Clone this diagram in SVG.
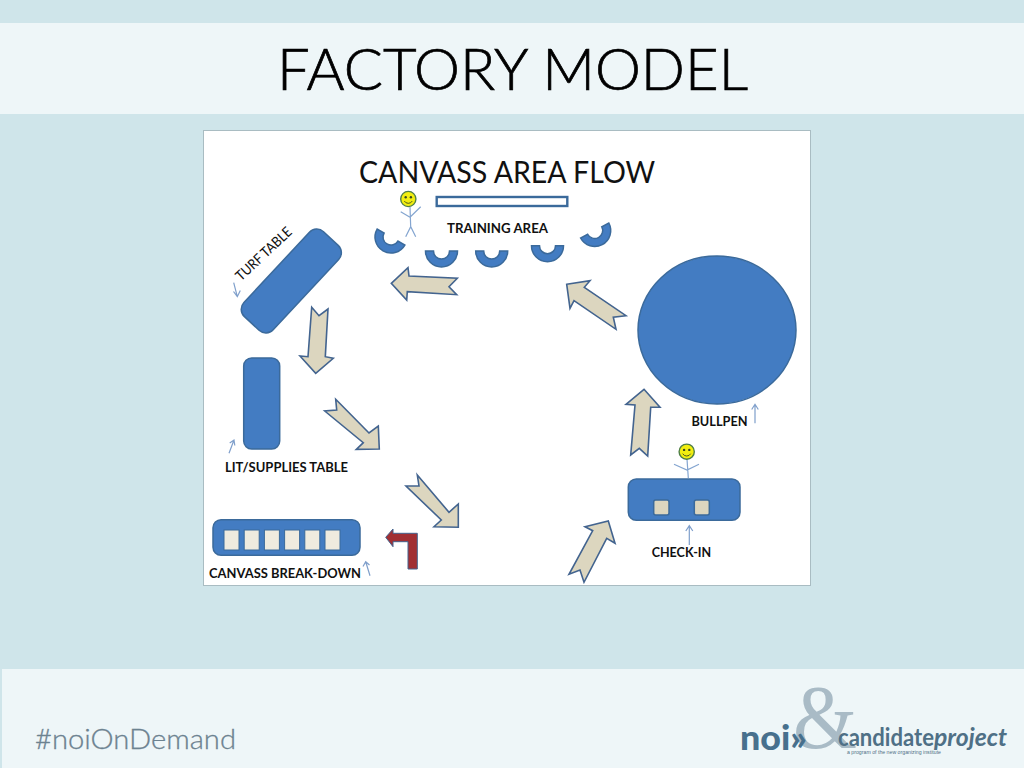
<svg xmlns="http://www.w3.org/2000/svg" xmlns:xlink="http://www.w3.org/1999/xlink" width="1024" height="768" viewBox="0 0 1024 768">
<style>
.blue{fill:#437cc2;stroke:#3b6a9b;stroke-width:1.5}
.flow{fill:#dcd6bf;stroke:#43648f;stroke-width:1.6;stroke-linejoin:miter}
.sq{fill:#efebdf;stroke:#3b6a9b;stroke-width:1}
.sq2{fill:#dcd6bf;stroke:#3b6a9b;stroke-width:1.5}
.thin{fill:none;stroke:#7f9fcb;stroke-width:1.2}
.stick{fill:none;stroke:#84a5d0;stroke-width:1.2}
.lbl{font-family:Lato,"Liberation Sans",sans-serif;font-weight:700;font-size:14px;fill:#111}
.face{fill:#f2ee10;stroke:#4f7f48;stroke-width:1.4}
</style>
<defs>
<path id="arc" class="blue" d="M-16,0A16,16 0 0 0 16,0L8,0A8,8 0 0 1 -8,0Z"/>
<g id="smile">
<circle class="face" r="7.6"/>
<circle cx="-2.6" cy="-1.8" r="1.2" fill="#3a4a20"/>
<circle cx="2.6" cy="-1.8" r="1.2" fill="#3a4a20"/>
<path d="M-4,2A4.6,4.6 0 0 0 4,2" fill="none" stroke="#3a4a20" stroke-width="0.9"/>
</g>
</defs>

<rect id="background" width="1024" height="768" fill="#cfe5ea"/>
<rect id="title-band" y="23" width="1024" height="91" fill="#eef6f8"/>
<rect id="footer-band" x="2" y="669" width="1022" height="99" fill="#eef6f8"/>
<text id="slide-title" x="277" y="90" font-family="Lato,'Liberation Sans',sans-serif" font-weight="300" font-size="57" fill="#000" stroke="#000" stroke-width="0.7" textLength="471" lengthAdjust="spacingAndGlyphs">FACTORY MODEL</text>
<text id="hashtag" x="35" y="749" font-family="Lato,'Liberation Sans',sans-serif" font-weight="300" font-size="27" fill="#6c8290" stroke="#6c8290" stroke-width="0.3" textLength="201" lengthAdjust="spacingAndGlyphs">#noiOnDemand</text>

<rect id="panel" x="203.5" y="130.5" width="607" height="455" fill="#fff" stroke="#a9bcc2" stroke-width="1"/>
<text id="panel-title" x="359" y="183" font-family="Lato,'Liberation Sans',sans-serif" font-size="30" fill="#111" textLength="296" lengthAdjust="spacingAndGlyphs">CANVASS AREA FLOW</text>

<g id="connectors">
<polygon class="flow" points="391.3,283.3 408,267.7 409,276 457.3,278.3 449,286.7 456.7,294.7 407.3,291.7 406.7,300"/>
<polygon class="flow" points="311.7,307.3 319,315.7 328,309 325.3,356.7 333.3,358.3 315.7,373.3 300,356 308,356.7"/>
<polygon class="flow" points="335.7,399.3 369,433 378.3,426 379.3,449 356.3,449.3 363.3,442.7 324.7,411 336.7,410"/>
<polygon class="flow" points="417.3,475 449,512.3 458.3,504 458.3,527.3 434,526.7 441.3,520 406,486 419,486"/>
<polygon class="flow" points="566.7,284.3 590,280.7 584.3,287.3 626,315.7 613.3,317.3 616,329.3 574,300.7 570,308.3"/>
<polygon class="flow" points="644,389.3 660,407.3 650.7,407.3 647.7,456 639.3,448.3 630.7,455 635,405 626,404.3"/>
<polygon class="flow" points="608.3,521 615,543.3 606.7,538.3 584,582.3 580,570 569,574.3 592.7,530.7 585,526.7"/>
<polygon points="385.7,537.3 393,529 393,533.3 417.3,533.3 417.3,569 408,569 408,541.7 393,541.7 393,546.7" fill="#a12f33" stroke="#43648f" stroke-width="1"/>
<path class="thin" d="M233.7,282.7L237.3,296.7M233.5,291.5L237.3,296.7L240.3,290.5"/>
<path class="thin" d="M229,453.3L234,440M229.7,443L234,440L234.8,445.5"/>
<path class="thin" d="M370,575.7L365.7,561.7M363,566.5L365.7,561.7L369.5,565"/>
<path class="thin" d="M755,423.3V404.3M751.7,409.5L755,404.3L758.3,409.5"/>
<path class="thin" d="M689.3,545V525.7M685.8,531L689.3,525.7L692.8,531"/>
</g>

<g id="training-area">
<rect x="436.7" y="197" width="130.6" height="9" fill="#fff" stroke="#3b6a9b" stroke-width="2.4"/>
<use xlink:href="#arc" href="#arc" transform="translate(391,237) rotate(30)"/>
<use xlink:href="#arc" href="#arc" transform="translate(441.5,251)"/>
<use xlink:href="#arc" href="#arc" transform="translate(491.7,251)"/>
<use xlink:href="#arc" href="#arc" transform="translate(547.5,245.7)"/>
<use xlink:href="#arc" href="#arc" transform="translate(594.7,230.5) rotate(-28)"/>
<text class="lbl" x="447" y="233" textLength="101" lengthAdjust="spacingAndGlyphs">TRAINING AREA</text>
</g>

<g id="trainer">
<path class="stick" d="M410,207L410.7,226.7M400.7,211.7L410,217.3L420.7,206.7M405.7,236.7L410.7,226.7L415.7,236.7"/>
<use xlink:href="#smile" href="#smile" transform="translate(408.3,199)"/>
</g>

<g id="turf-table">
<rect class="blue" x="-20" y="-58" width="40" height="116" rx="10" transform="translate(291.3,281) rotate(43)"/>
<text x="0" y="0" font-family="Lato,'Liberation Sans',sans-serif" font-size="14" fill="#111" transform="translate(241,281.5) rotate(-43)" textLength="71" lengthAdjust="spacingAndGlyphs">TURF TABLE</text>
</g>

<g id="lit-supplies-table">
<rect class="blue" x="243.7" y="358" width="36" height="91" rx="8"/>
<text class="lbl" x="225" y="471.5" textLength="123" lengthAdjust="spacingAndGlyphs">LIT/SUPPLIES TABLE</text>
</g>

<g id="canvass-break-down">
<rect class="blue" x="213" y="519.7" width="147" height="35.6" rx="8"/>
<rect class="sq" x="224" y="530" width="15" height="20"/>
<rect class="sq" x="244.2" y="530" width="15" height="20"/>
<rect class="sq" x="264.4" y="530" width="15" height="20"/>
<rect class="sq" x="284.6" y="530" width="15" height="20"/>
<rect class="sq" x="304.8" y="530" width="15" height="20"/>
<rect class="sq" x="325" y="530" width="15" height="20"/>
<text class="lbl" x="209" y="578" textLength="152" lengthAdjust="spacingAndGlyphs">CANVASS BREAK-DOWN</text>
</g>

<g id="bullpen">
<ellipse class="blue" cx="717" cy="330" rx="79" ry="74"/>
<text class="lbl" x="691.5" y="425.5" textLength="56" lengthAdjust="spacingAndGlyphs">BULLPEN</text>
</g>

<g id="check-in">
<path class="stick" d="M687,459L688.3,478M674,464.3L687,470L699,464.3"/>
<use xlink:href="#smile" href="#smile" transform="translate(686.7,451.7)"/>
<rect class="blue" x="628.3" y="479" width="111.7" height="41.3" rx="8"/>
<rect class="sq2" x="653.7" y="500" width="15.3" height="15" rx="2"/>
<rect class="sq2" x="694.3" y="500" width="15" height="15" rx="2"/>
<text class="lbl" x="651.7" y="557.3" textLength="59.5" lengthAdjust="spacingAndGlyphs">CHECK-IN</text>
</g>

<g id="logo">
<text x="793" y="748" font-family="'Liberation Serif',serif" font-size="92" fill="#a9bbc6" textLength="64" lengthAdjust="spacingAndGlyphs">&amp;</text>
<text x="740" y="750" font-family="Lato,'Liberation Sans',sans-serif" font-weight="900" font-size="34" fill="#47708d" textLength="67" lengthAdjust="spacingAndGlyphs">noi»</text>
<text x="838" y="746" font-family="Lato,'Liberation Sans',sans-serif" font-weight="700" font-size="24" fill="#4f7086" textLength="96" lengthAdjust="spacingAndGlyphs">candidate</text>
<text x="934" y="746" font-family="Lato,'Liberation Sans',sans-serif" font-style="italic" font-weight="700" font-size="24" fill="#4f7086" textLength="73" lengthAdjust="spacingAndGlyphs">project</text>
<text x="847" y="753.5" font-family="'Liberation Sans',sans-serif" font-size="5.5" fill="#4f7086" textLength="94" lengthAdjust="spacingAndGlyphs">a program of the new organizing institute</text>
</g>
</svg>
